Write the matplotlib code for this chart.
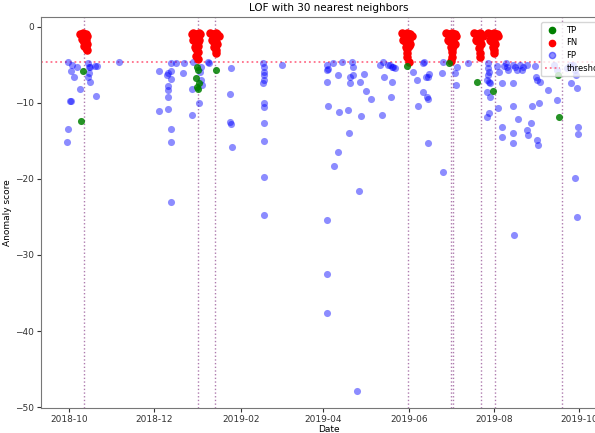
"""LOF anomaly scores with 30 nearest neighbors: TP / FN / FP and threshold."""

import matplotlib
import numpy as np
import pandas as pd

matplotlib.use("Agg")
import matplotlib.dates as mdates
import matplotlib.pyplot as plt
from matplotlib.lines import Line2D

startdatum = pd.Timestamp("2018-10-01")

# Days since 2018-10-01 and anomaly scores
tp_tage = [10.0, 8.6, 91.6, 92.3, 91.0, 93.0, 91.6, 92.0, 105.2, 242.0, 272.0, 292.0, 303.5, 350.0, 350.7]
tp_score = [-5.8, -12.4, -5.3, -5.7, -6.7, -7.4, -7.9, -8.2, -5.7, -5.2, -4.7, -7.2, -8.4, -6.4, -11.8]

fn_tage = [
    8, 9, 10, 11, 12, 13, 9, 10, 11, 12, 13, 11, 12, 13, 12,
    88, 89, 90, 91, 92, 93, 94, 89, 90, 91, 92, 93, 90, 91, 92, 92, 91, 92,
    101, 102, 103, 104, 105, 106, 107, 102, 103, 104, 105, 106, 104, 105, 105,
    238, 239, 240, 241, 242, 243, 244, 245, 239, 240, 241, 242, 243, 244, 241, 242, 243, 242, 242, 243,
    270, 271, 272, 273, 274, 275, 276, 277, 271, 272, 273, 274, 275, 276, 273, 274, 275, 274, 274, 273,
    290, 291, 292, 293, 294, 295, 296, 291, 292, 293, 294, 295, 293, 294, 294,
    300, 301, 302, 303, 304, 305, 306, 307, 301, 302, 303, 304, 305, 303, 304, 304,
]
fn_score = [
    -0.9, -1.0, -0.8, -1.1, -0.9, -1.2, -1.6, -1.8, -2.0, -1.7, -2.2, -2.5, -2.8, -3.0, -2.4,
    -0.9, -0.8, -1.0, -0.9, -1.1, -0.8, -1.0, -1.7, -1.9, -1.6, -2.0, -1.8, -2.6, -2.9, -2.5, -3.3, -3.8, -4.3,
    -0.8, -1.0, -0.9, -1.1, -0.8, -1.0, -1.2, -1.7, -1.9, -1.6, -2.0, -2.2, -2.6, -3.0, -3.4,
    -0.8, -1.0, -0.9, -1.1, -0.8, -1.0, -0.9, -1.2, -1.7, -1.9, -1.6, -2.0, -1.8, -2.2, -2.7, -2.9, -2.5, -3.4, -4.0, -4.6,
    -0.8, -1.0, -0.9, -1.1, -0.8, -1.0, -0.9, -1.2, -1.7, -1.9, -1.6, -2.0, -1.8, -2.2, -2.7, -2.9, -2.5, -3.3, -4.0, -4.5,
    -0.8, -1.0, -0.9, -1.1, -0.8, -1.0, -1.2, -1.7, -1.9, -1.6, -2.0, -2.2, -2.8, -3.4, -4.0,
    -0.8, -1.0, -0.9, -1.1, -0.8, -1.0, -0.9, -1.2, -1.7, -1.9, -1.6, -2.0, -2.2, -2.6, -3.0, -3.4,
]

fp_tage = [
    -0.7, 2.1, 1.4, 3.6, 7.9, 0.7, 1.4, -0.7, -1.4, 5.7, 13.6, 14.3, 15.0, 14.3, 13.6, 15.0, 18.6, 20.0, 19.3, 35.8,
    64.4, 64.4, 70.2, 70.9, 73.0, 73.0, 73.0, 70.9, 70.9, 70.9, 70.9, 73.0, 73.0, 73.0, 76.6, 82.3, 81.6, 88.0, 88.0,
    88.8, 94.5, 93.8, 94.5, 95.2, 93.0, 100.2, 99.5,
    116.0, 115.2, 115.2, 116.0, 116.7,
    138.9, 139.6, 139.6, 139.6, 139.6, 138.9, 139.6, 139.6, 139.6, 139.6, 139.6, 139.6, 152.5,
    184.7, 184.7, 185.4, 184.7, 185.4, 184.7, 184.7, 184.7, 189.0, 192.6, 193.3, 192.6, 189.7, 195.4, 199.7, 200.4,
    202.6, 203.3, 203.3, 201.1, 201.1, 206.2, 207.6, 208.3, 209.0, 211.2, 212.6, 216.2, 222.6, 224.8, 225.5, 224.0,
    228.3, 229.8, 231.2, 231.9, 233.4, 231.2, 230.5,
    246.2, 249.1, 253.4, 254.1, 255.5, 257.0, 257.7, 253.4, 256.3, 257.0, 249.8, 257.0, 267.0, 267.7, 267.7,
    277.7, 276.3, 277.0, 285.6,
    299.9, 299.9, 300.6, 299.9, 299.2, 300.6, 301.4, 299.2, 301.4, 299.2, 300.6, 306.4, 307.8, 311.4, 312.8, 313.5,
    314.2, 317.8, 319.3, 320.7, 317.8, 310.0, 307.1, 310.0, 310.0, 317.8, 317.8, 317.8, 321.4, 318.5, 322.8, 324.3,
    325.0, 327.8, 327.8, 328.5, 330.7, 331.4, 333.6, 334.3, 335.0, 335.0, 335.7, 336.4, 337.1, 342.9, 347.2, 349.3,
    349.3, 356.5, 358.6, 360.8, 362.2, 362.9, 359.3, 363.6, 364.3, 364.3, 362.2, 363.6,
]
fp_score = [
    -4.6, -5.0, -5.8, -6.6, -8.2, -9.7, -9.7, -13.4, -15.1, -5.3, -4.7, -5.3, -5.3, -6.1, -6.6, -7.2, -5.1, -5.1, -9.1, -4.6,
    -5.8, -11.1, -6.3, -6.1, -5.8, -4.7, -6.8, -7.8, -8.3, -9.2, -10.8, -13.4, -15.1, -23.0, -4.7, -4.7, -6.1, -8.2, -11.6,
    -4.6, -5.3, -5.9, -7.0, -7.6, -10.0, -4.7, -4.6,
    -5.4, -8.8, -12.5, -12.8, -15.8,
    -4.7, -5.3, -5.9, -6.3, -7.0, -7.4, -10.0, -10.5, -12.6, -15.0, -19.7, -24.7, -5.0,
    -5.0, -5.7, -5.5, -7.2, -10.4, -25.4, -32.5, -37.6, -4.7, -6.3, -11.2, -16.4, -18.3, -4.6, -10.9, -13.9,
    -4.6, -5.3, -6.4, -6.6, -7.4, -47.9, -21.6, -7.2, -11.7, -6.2, -8.4, -9.5, -5.0, -4.6, -6.6, -11.6,
    -5.0, -5.0, -5.3, -5.3, -5.4, -7.2, -9.2,
    -5.9, -7.0, -4.7, -4.6, -6.6, -6.6, -6.2, -8.6, -9.2, -9.5, -10.4, -15.3, -6.1, -4.6, -19.1,
    -5.3, -6.1, -7.6, -4.7,
    -4.7, -5.4, -5.9, -6.3, -7.0, -7.2, -7.4, -8.6, -9.2, -11.8, -11.3, -5.1, -5.9, -5.1, -4.7, -5.3,
    -5.7, -5.0, -5.3, -5.7, -7.4, -7.4, -10.7, -13.2, -14.5, -10.4, -13.9, -15.3, -12.1, -27.4, -5.0, -5.7,
    -5.3, -5.0, -13.6, -14.2, -12.6, -10.4, -5.1, -6.6, -7.0, -14.9, -15.5, -10.0, -7.2, -8.3, -5.0, -5.7,
    -9.6, -5.4, -5.0, -5.0, -5.7, -6.3, -7.4, -8.0, -13.2, -14.1, -19.9, -25.0,
]

# Anomaly windows (vertical lines) and threshold
anomalie_tage = [10.7, 92.0, 104.5, 242.5, 273.5, 274.5, 295.0, 305.0, 353.0]
schwelle = -4.6


def zu_datum(tage):
    return startdatum + pd.to_timedelta(np.asarray(tage, dtype=float), unit="D")


plt.rcParams["font.family"] = "DejaVu Sans"
fig = plt.figure(figsize=(5.95, 4.33), dpi=100)
ax = fig.add_axes([0.069, 0.058, 0.968, 0.903])

for t in anomalie_tage:
    ax.axvline(zu_datum([t])[0], color="#9a5a9a", linestyle=":", linewidth=1.0, alpha=0.8, zorder=1)
ax.axhline(schwelle, color="#ff6f8a", linestyle=":", linewidth=1.3, zorder=1)

ax.scatter(zu_datum(fn_tage), fn_score, s=26, color="red", zorder=3)
ax.scatter(zu_datum(fp_tage), fp_score, s=26, color="blue", alpha=0.45, linewidths=0, zorder=2)
ax.scatter(zu_datum(tp_tage), tp_score, s=26, color="green", alpha=0.85, linewidths=0, zorder=4)

ax.set_xlim(zu_datum([-20])[0], zu_datum([392])[0])
ax.set_ylim(-50.1, 1.3)
ax.xaxis.set_major_locator(mdates.MonthLocator(bymonth=[2, 4, 6, 8, 10, 12]))
ax.xaxis.set_major_formatter(mdates.DateFormatter("%Y-%m"))
ax.tick_params(labelsize=6.5, length=3, pad=2, colors="#333333")
for sp in ax.spines.values():
    sp.set_color("#777777")

ax.set_title("LOF with 30 nearest neighbors", fontsize=7.5, pad=4)
ax.set_xlabel("Date", fontsize=6.5, labelpad=1)
ax.set_ylabel("Anomaly score", fontsize=6.5, labelpad=2)

handles = [
    Line2D([], [], marker="o", linestyle="", color="green", markersize=4.5),
    Line2D([], [], marker="o", linestyle="", color="red", markersize=4.5),
    Line2D([], [], marker="o", linestyle="", color="blue", alpha=0.45, markersize=4.5),
    Line2D([], [], color="#ff6f8a", linestyle=":", linewidth=1.3),
]
ax.legend(handles, ["TP", "FN", "FP", "threshold"], loc="upper left", fontsize=6,
          framealpha=0.8, handlelength=1.8, labelspacing=0.45,
          bbox_to_anchor=(0.903, 0.958), bbox_transform=fig.transFigure)

fig.savefig("out.png", dpi=100)
